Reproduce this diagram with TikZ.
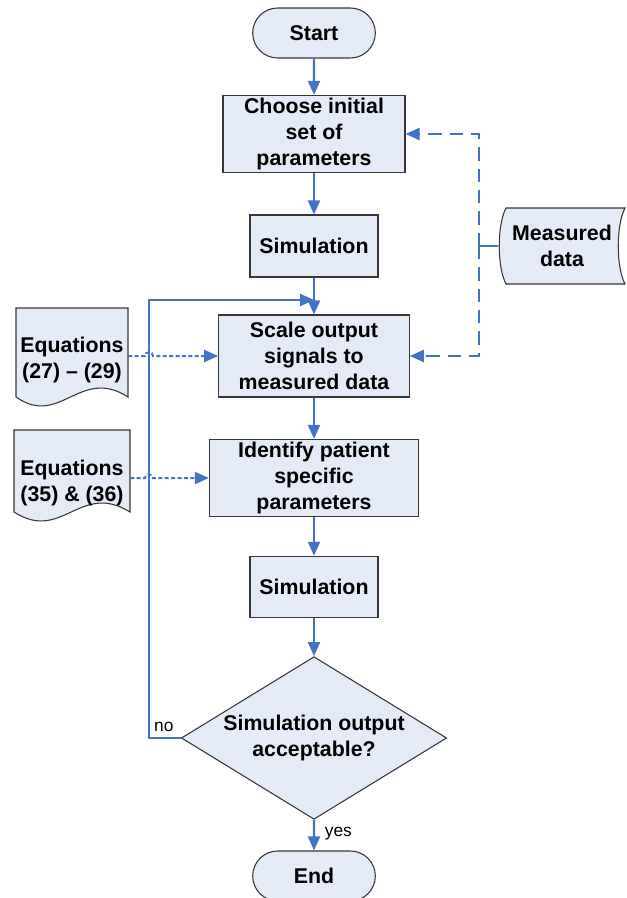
\documentclass[tikz,border=0pt]{standalone}
\usepackage{fontspec}
\setmainfont{Liberation Sans}
\usetikzlibrary{shapes.geometric,shapes.misc,arrows.meta,positioning}
\definecolor{boxfill}{RGB}{228,235,247}
\definecolor{flowblue}{RGB}{68,114,196}
\definecolor{boxline}{RGB}{55,55,55}
\begin{document}
\begin{tikzpicture}[x=0.75pt, y=-0.75pt,
  font=\fontsize{16}{19.5}\selectfont\bfseries,
  box/.style={draw=boxline, fill=boxfill, line width=0.8pt, align=center, inner sep=2pt},
  term/.style={box, rounded rectangle, minimum width=96pt, minimum height=37.5pt},
  decide/.style={box, diamond, aspect=1.63, inner sep=0pt, minimum width=199pt, minimum height=122pt},
  shapeline/.style={draw=boxline, fill=boxfill, line width=0.8pt},
  flow/.style={draw=flowblue, line width=1.6pt, -{Triangle[length=10.5pt,width=9pt]}},
  feed/.style={flow, dash pattern=on 10pt off 6pt},
  eqlink/.style={flow, line width=1.5pt, dash pattern=on 3pt off 1.8pt},
  tag/.style={font=\fontsize{13}{15}\selectfont}]
  \useasboundingbox (0,0) rectangle (627,898);

  % main chain
  \node[term] (start) at (314,33) {Start};
  \node[box, minimum width=136.5pt, minimum height=57pt] (choose) at (314,134) {Choose initial\\set of\\parameters};
  \node[box, minimum width=96pt, minimum height=46.5pt] (sim1) at (314,246) {Simulation};
  \node[box, minimum width=143pt, minimum height=61.5pt] (scale) at (314,356) {Scale output\\signals to\\measured data};
  \node[box, minimum width=157pt, minimum height=57pt] (ident) at (314,478) {Identify patient\\specific\\parameters};
  \node[box, minimum width=96pt, minimum height=46pt] (sim2) at (314,587) {Simulation};
  \node[decide] (accept) at (314,738) {Simulation output\\acceptable?};
  \node[term] (end) at (314,876) {End};

  % side inputs
  \draw[shapeline] (506,208) -- (625,208) .. controls (616,225) and (616,267) .. (625,284)
    -- (506,284) .. controls (497,267) and (497,225) .. (506,208) -- cycle;
  \node[minimum width=96pt, align=center] (meas) at (562,246) {Measured\\data};
  \draw[shapeline] (16,397) -- (16,308) -- (128,308) -- (128,397)
    .. controls (80,366) and (60,428) .. (16,397) -- cycle;
  \node[minimum width=84pt, align=center] (eq1) at (72,360) {Equations\\(27) -- (29)};
  \draw[shapeline] (14,512) -- (14,430) -- (130,430) -- (130,512)
    .. controls (80,481) and (62,543) .. (14,512) -- cycle;
  \node[minimum width=87pt, align=center] (eq2) at (72,483) {Equations\\(35) \& (36)};

  \coordinate (merge) at (314,300);
  \coordinate (loopcorner) at (149,300);
  \coordinate (mjoin) at (479,246);

  \draw[flow] (start) -- (choose);
  \draw[flow] (choose) -- (sim1);
  \draw[flow] (sim1) -- (scale);
  \draw[flow] (scale) -- (ident);
  \draw[flow] (ident) -- (sim2);
  \draw[flow] (sim2) -- (accept);
  \draw[flow] (accept) -- (end) node[pos=0.45, right=4pt, tag] {yes};
  \draw[flow] (accept.west) -| (loopcorner) -- (merge);
  \node[tag, above left=1pt and 2pt of accept.west] (nolabel) {no};

  \draw[line width=1.6pt, flowblue] (meas.west) -- (mjoin);
  \draw[feed] (mjoin) |- (choose.east);
  \draw[feed] (mjoin) |- (scale.east);

  \draw[eqlink] (eq1.east |- scale.west) -- (145,356) .. controls (145,351) and (153,351) .. (153,356) -- (scale.west);
  \draw[eqlink] (eq2.east |- ident.west) -- (145,478) .. controls (145,473) and (153,473) .. (153,478) -- (ident.west);
\end{tikzpicture}
\end{document}
